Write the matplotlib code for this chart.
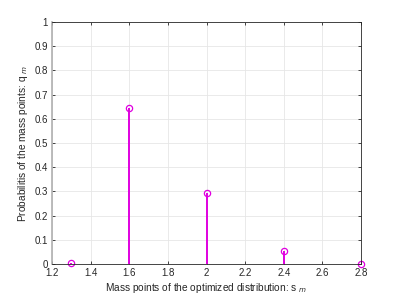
import numpy as np
import matplotlib
matplotlib.use("Agg")
import matplotlib.pyplot as plt

plt.rcParams['font.family'] = ['Liberation Sans', 'DejaVu Sans']

# ---------------- DATA ----------------
mass_points = [1.3, 1.6, 2.0, 2.4, 2.8]
probs = [0.005, 0.645, 0.293, 0.055, 0.002]

xticks = [1.2, 1.4, 1.6, 1.8, 2.0, 2.2, 2.4, 2.6, 2.8]
xtick_labels = ["1.2", "1.4", "1.6", "1.8", "2", "2.2", "2.4", "2.6", "2.8"]
yticks = [0, 0.1, 0.2, 0.3, 0.4, 0.5, 0.6, 0.7, 0.8, 0.9, 1]
ytick_labels = ["0", "0.1", "0.2", "0.3", "0.4", "0.5", "0.6", "0.7", "0.8", "0.9", "1"]

# ---------------- PLOT ----------------
fig = plt.figure(figsize=(3.99, 2.99), dpi=100)
ax = fig.add_axes([52 / 399, 1 - 264 / 299, 309 / 399, 242 / 299])

magenta = "#e000e0"
ml, sl, bl = ax.stem(mass_points, probs, basefmt=" ")
plt.setp(sl, color=magenta, linewidth=1.4)
plt.setp(ml, color=magenta, marker="o", markersize=4.5,
         markerfacecolor="none", markeredgewidth=0.9)
for m in [ml, sl]:
    m.set_clip_on(False)

ax.set_xlim(1.2, 2.8)
ax.set_ylim(0, 1)
ax.set_xticks(xticks)
ax.set_xticklabels(xtick_labels)
ax.set_yticks(yticks)
ax.set_yticklabels(ytick_labels)

ax.grid(True, color="#e6e6e6", linewidth=0.6)
ax.set_axisbelow(True)
ax.tick_params(direction="in", length=2.5, width=0.6, labelsize=7,
               colors="#262626", top=True, right=True, pad=3)
for s in ax.spines.values():
    s.set_color("#262626")
    s.set_linewidth(0.6)
ax.spines["left"].set_color("#b0b0b0")
ax.spines["left"].set_linewidth(1.2)

ax.set_xlabel(r"Mass points of the optimized distribution: s $_{m}$",
              fontsize=7.3, color="#262626", labelpad=2)
ax.set_ylabel(r"Probabilitis of the mass points: q $_{m}$",
              fontsize=7.3, color="#262626", labelpad=3)

fig.savefig("out.png", dpi=100)
